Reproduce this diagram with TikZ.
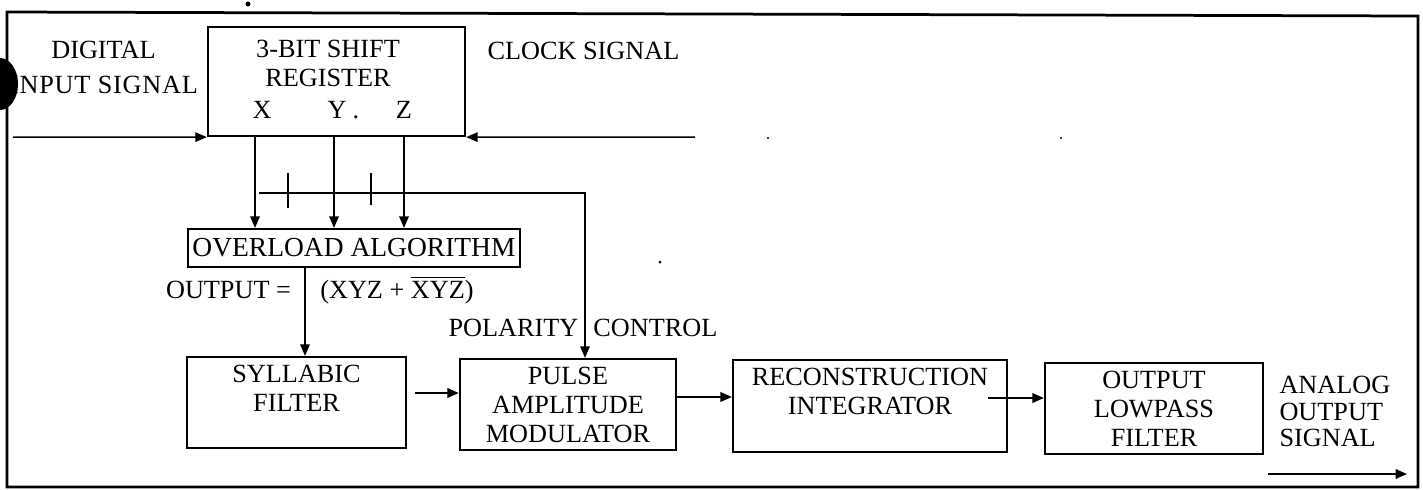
\documentclass[tikz,border=0pt]{standalone}
\usepackage{fontspec}
\setmainfont{Liberation Serif}
\usetikzlibrary{arrows.meta}
\tikzset{
  box/.style={draw, line width=0.9pt, inner sep=0pt, align=center},
  lbl/.style={inner sep=0pt, align=center},
  conn/.style={line width=0.6pt},
  arr/.style={conn, -{Triangle[length=4.6pt,width=3.8pt]}},
  barr/.style={line width=0.8pt, -{Triangle[length=4.6pt,width=3.8pt]}}
}
\begin{document}
\begin{tikzpicture}[x=0.4pt,y=-0.4pt,
  every node/.style={font=\fontsize{10.5}{11.6}\selectfont}]
\useasboundingbox (0,0) rectangle (1423,489);
% outer frame
\draw[line width=1.1pt] (7,12) -- (1418,16) -- (1418,487) -- (7,487) -- cycle;

% boxes
\node[box, minimum width=102.8pt, minimum height=43.6pt] (shift) at (336.5,81.5) {};
\node[lbl] (shifttxt) at (328,63.5) {3-BIT SHIFT\\REGISTER};
\node[lbl] (lx) at (262,110) {X};
\node[lbl] (ly) at (337,110) {Y};
\node[lbl, anchor=base] (ldot) at (356,118) {.};
\node[lbl] (lz) at (404,110) {Z};

\node[box, minimum width=132.8pt, minimum height=15.2pt, font=\fontsize{11}{12}\selectfont] (over) at (354,248) {OVERLOAD ALGORITHM};
\node[box, minimum width=87.6pt, minimum height=36.4pt] (syl) at (296.5,402.5) {SYLLABIC\\FILTER\\\mbox{}};
\node[box, minimum width=86.4pt, minimum height=36.4pt] (pam) at (568,404.5) {PULSE\\AMPLITUDE\\MODULATOR};
\node[box, minimum width=109.6pt, minimum height=36.8pt] (recon) at (870,406) {RECONSTRUCTION\\INTEGRATOR\\\mbox{}};
\node[box, minimum width=87.2pt, minimum height=36.4pt] (lp) at (1154,408.5) {OUTPUT\\LOWPASS\\FILTER};

% labels
\node[lbl] (dig) at (103.5,50) {DIGITAL};
\node[lbl, font=\fontsize{10.5}{11.6}\addfontfeature{LetterSpace=3}\selectfont] (inp) at (104,85) {INPUT SIGNAL};
\node[lbl] (clk) at (583.5,51) {CLOCK SIGNAL};
\node[lbl, anchor=base] (outeq) at (228.5,298) {OUTPUT =};
\node[lbl, anchor=base] (expr) at (397,298) {(XYZ + $\overline{\mbox{X}}\overline{\mbox{Y}}\overline{\mbox{Z}}$)};
\node[lbl, anchor=base] (pol) at (583,336) {POLARITY\hspace{6pt}CONTROL};
\node[lbl, align=left, anchor=west, font=\fontsize{10.5}{10.6}\selectfont] (aos) at (1279,411.5) {ANALOG\\OUTPUT\\SIGNAL};

% helper coordinates
\coordinate (xX) at (255,0);
\coordinate (xY) at (334,0);
\coordinate (xZ) at (404,0);
\coordinate (xO) at (305,0);
\coordinate (inS) at (13,137);
\coordinate (clkS) at (695,137);
\coordinate (polS) at (259,193);
\coordinate (polC) at (585,193);
\coordinate (t1a) at (288,173);
\coordinate (t1b) at (288,208);
\coordinate (t2a) at (371,173);
\coordinate (t2b) at (371,205);
\coordinate (r1) at (0,393);
\coordinate (r2) at (0,397);
\coordinate (r3) at (0,398);
\coordinate (oS) at (1268,474);
\coordinate (oE) at (1407,474);

% connectors
\draw[arr] (inS) -- (shift.south west);
\draw[arr] (clkS) -- (shift.south east);
\draw[arr] (shift.south -| xX) -- (over.north -| xX);
\draw[arr] (shift.south -| xY) -- (over.north -| xY);
\draw[arr] (shift.south -| xZ) -- (over.north -| xZ);
\draw[arr] (polS) -- (polC) -- (pam.north -| polC);
\draw[conn] (t1a) -- (t1b);
\draw[conn] (t2a) -- (t2b);
\draw[arr] (over.south -| xO) -- (syl.north -| xO);
\draw[barr, shorten <=3.2pt] (syl.east |- r1) -- (pam.west |- r1);
\draw[barr] (pam.east |- r2) -- (recon.west |- r2);
\draw[barr, shorten <=-8pt] (recon.east |- r3) -- (lp.west |- r3);
\draw[barr] (oS) -- (oE);

% scan specks and punch hole
\fill (660,262) circle[radius=1.5];
\fill (768,138) circle[radius=1.2];
\fill (1061,138) circle[radius=1.2];
\fill (248,4) circle[radius=2.5];
\fill (0,84) ellipse[x radius=18, y radius=26];
\end{tikzpicture}
\end{document}
